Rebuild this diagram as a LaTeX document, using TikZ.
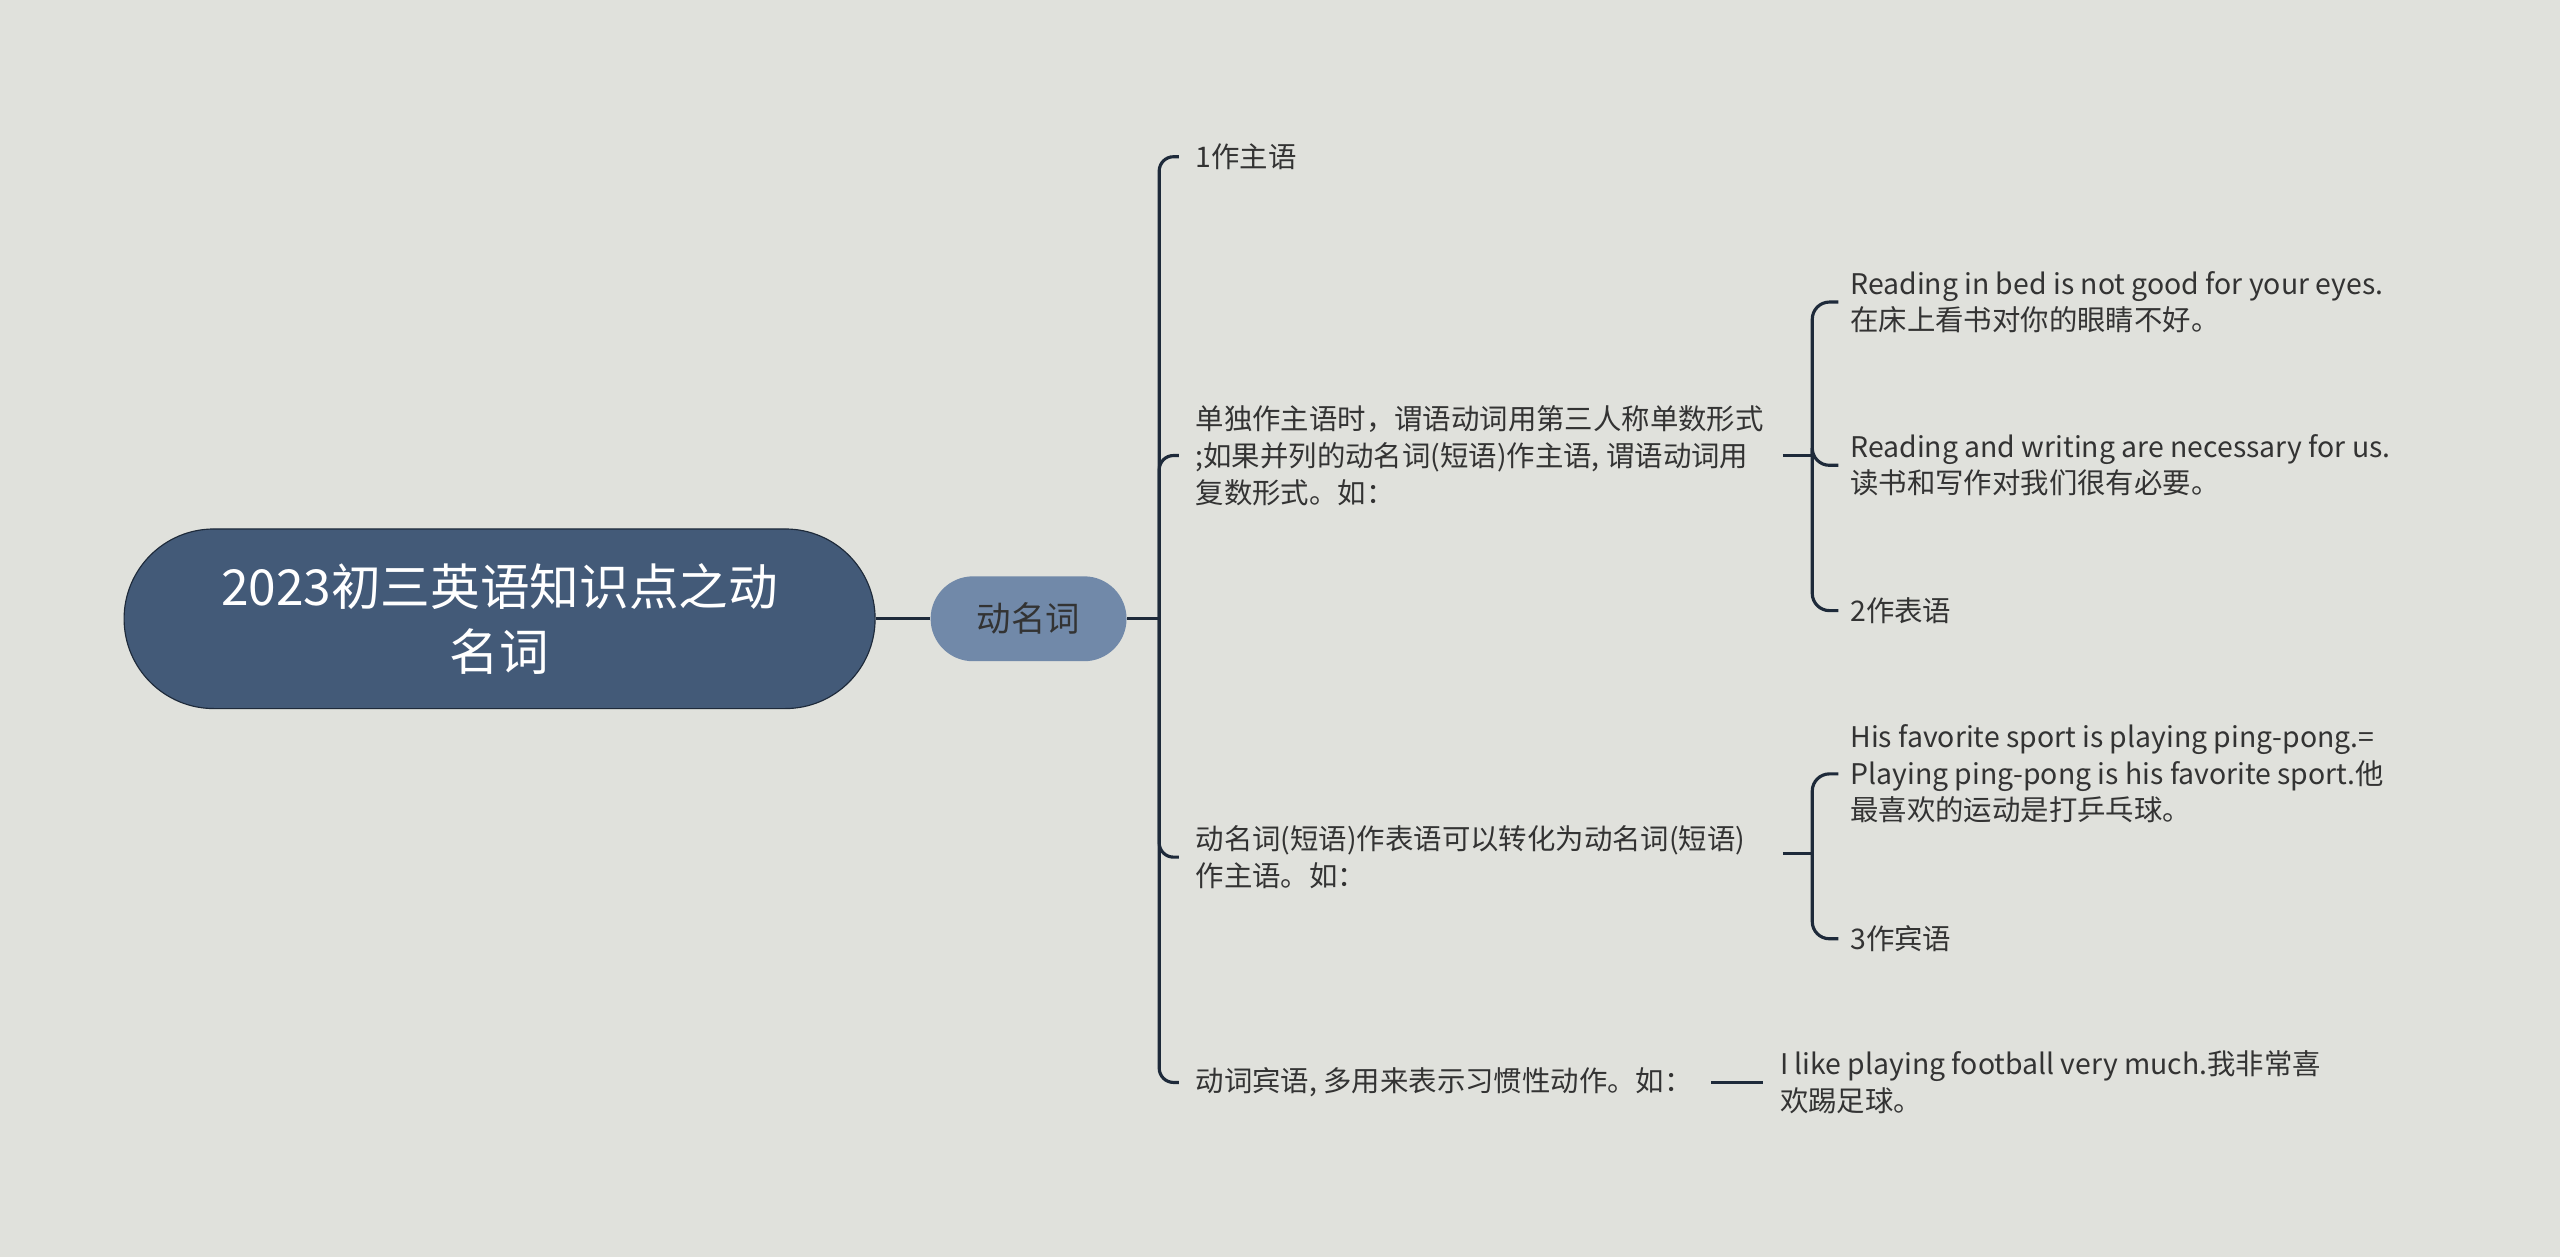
\documentclass[tikz,border=0pt]{standalone}
\usepackage{fontspec}
\setmainfont{Noto Sans CJK SC}
\definecolor{bg}{HTML}{E0E1DC}
\definecolor{rootc}{HTML}{435A78}
\definecolor{midc}{HTML}{7189A9}
\definecolor{ln}{HTML}{1E2A3A}
\definecolor{tx}{HTML}{333333}
\begin{document}
\begin{tikzpicture}[x=0.02cm,y=-0.02cm,
  leaf/.style={anchor=west,align=left,inner sep=0pt,text=tx,font=\fontsize{9.9}{12.8}\selectfont},
  conn/.style={draw=ln,line width=1.1pt,rounded corners=6pt}]
\fill[bg] (0,0) rectangle (1568,770);
\useasboundingbox (0,0) rectangle (1568,770);
\node[fill=rootc,draw=ln,line width=0.4pt,rounded corners=55*0.02cm,minimum width=460*0.02cm,minimum height=110*0.02cm,text=white,align=center,font=\fontsize{17.3}{22.7}\selectfont] (root) at (306,379) {2023初三英语知识点之动\\名词};
\node[fill=midc,rounded corners=26*0.02cm,minimum width=120*0.02cm,minimum height=52*0.02cm,text=tx,font=\fontsize{12}{14}\selectfont] (mid) at (630,379) {动名词};
\draw[conn] (root.east) -- (mid.west);
\node[leaf] (c1) at (732,96) {1作主语};
\node[leaf] (c2) at (732,279) {单独作主语时，谓语动词用第三人称单数形式\\;如果并列的动名词(短语)作主语, 谓语动词用\\复数形式。如：};
\node[leaf] (c3) at (732,525) {动名词(短语)作表语可以转化为动名词(短语)\\作主语。如：};
\node[leaf] (c4) at (732,663) {动词宾语, 多用来表示习惯性动作。如：};
\node[leaf] (d1) at (1133,185) {Reading in bed is not good for your eyes.\\在床上看书对你的眼睛不好。};
\node[leaf] (d2) at (1133,285) {Reading and writing are necessary for us.\\读书和写作对我们很有必要。};
\node[leaf] (d3) at (1133,374) {2作表语};
\node[leaf] (e1) at (1133,474) {His favorite sport is playing ping-pong.=\\Playing ping-pong is his favorite sport.他\\最喜欢的运动是打乒乓球。};
\node[leaf] (e2) at (1133,575) {3作宾语};
\node[leaf] (f1) at (1090,663) {I like playing football very much.我非常喜\\欢踢足球。};
\coordinate (b1) at (710,379);
\draw[conn] (mid.east) -- (b1);
\foreach \c in {c1,c2,c3,c4}{
  \draw[conn,rounded corners=5pt] (b1) |- (\c.west -| 722,0);
}
\coordinate (b2) at (1110,279);
\draw[conn] (1092,279) -- (b2);
\foreach \c in {d1,d2,d3}{\draw[conn] (b2) |- (\c.west -| 1126,0);}
\coordinate (b3) at (1110,523);
\draw[conn] (1092,523) -- (b3);
\foreach \c in {e1,e2}{\draw[conn] (b3) |- (\c.west -| 1126,0);}
\coordinate (b4) at (1048,663);
\draw[conn] (b4) -- (f1.west -| 1080,0);
\end{tikzpicture}
\end{document}
